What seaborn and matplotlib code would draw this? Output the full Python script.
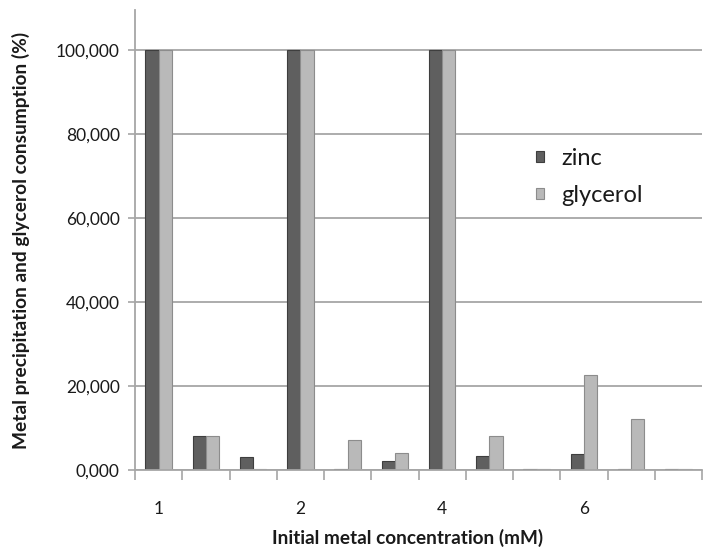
import matplotlib
matplotlib.use("Agg")
import matplotlib.pyplot as plt
import seaborn as sns
import pandas as pd
from matplotlib.ticker import FuncFormatter, FixedLocator

# Twelve samples; only every third one carries a concentration label
tick_labels = ["1", "", "", "2", "", "", "4", "", "", "6", "", ""]
zinc = [100.0, 8.0, 3.2, 100.0, 0.3, 2.2, 100.0, 3.3, 0.2, 3.8, 0.2, 0.2]
glycerol = [100.0, 8.0, 0.3, 100.0, 7.2, 4.0, 100.0, 8.0, 0.2, 22.7, 12.1, 0.2]
series = ["zinc", "glycerol"]
y_ticks = [0, 20, 40, 60, 80, 100]

n = len(tick_labels)
df = pd.DataFrame({
    "sample": list(range(n)) * 2,
    "value": zinc + glycerol,
    "series": ["zinc"] * n + ["glycerol"] * n,
})

sns.set_theme(style="white")
plt.rcParams["font.family"] = ["Lato", "DejaVu Sans"]

fig = plt.figure(figsize=(7.07, 5.53), dpi=100)
ax = fig.add_axes([0.191, 0.150, 0.802, 0.832])

palette = {"zinc": "#5f5f5f", "glycerol": "#b9b9b9"}
sns.barplot(data=df, x="sample", y="value", hue="series", hue_order=series,
            palette=palette, width=0.56, gap=0, saturation=1,
            edgecolor="#3e3e3e", linewidth=0.8, ax=ax, legend=True)
for bar in ax.patches:
    if abs(bar.get_facecolor()[0] - 0xb9 / 255) < 0.02:
        bar.set_edgecolor("#8c8c8c")

ax.set_xlim(-0.5, n - 0.5)
ax.set_ylim(0, 109.5)

# y axis
ax.yaxis.set_major_locator(FixedLocator(y_ticks))
ax.yaxis.set_major_formatter(FuncFormatter(lambda v, p: f"{v:,.3f}".replace(".", ",")))
ax.grid(axis="y", color="#a6a6a6", linewidth=1.3)
ax.set_axisbelow(True)

# x axis: tick marks at sample boundaries, labels at sample centres
ax.set_xticks([i - 0.5 for i in range(n + 1)])
ax.set_xticklabels([""] * (n + 1))
ax.set_xticks(list(range(n)), minor=True)
ax.set_xticklabels(tick_labels, minor=True)
ax.tick_params(axis="x", which="major", length=7, width=1.2, color="#a6a6a6",
               direction="out", bottom=True)
ax.tick_params(axis="x", which="minor", length=0, pad=22, labelsize=12.5,
               labelcolor="#1a1a1a")
ax.tick_params(axis="y", length=5, width=1.2, color="#a6a6a6", direction="out",
               left=True, labelsize=12.5, labelcolor="#1a1a1a", pad=6)

for side in ("top", "right"):
    ax.spines[side].set_visible(False)
for side in ("left", "bottom"):
    ax.spines[side].set_color("#a6a6a6")
    ax.spines[side].set_linewidth(1.3)

ax.set_xlabel("Initial metal concentration (mM)", fontsize=13.7,
              fontweight="bold", color="#1a1a1a")
ax.set_ylabel("Metal precipitation and glycerol consumption (%)", fontsize=13.8,
              fontweight="bold", color="#1a1a1a")
ax.xaxis.set_label_coords(0.481, -0.128)
ax.yaxis.set_label_coords(-0.186, 0.50)

leg = ax.legend(loc="upper left", bbox_to_anchor=(0.707, 0.70), frameon=False,
                fontsize=17, handlelength=0.35, handleheight=0.35,
                handletextpad=0.72, labelspacing=0.66, borderpad=0,
                borderaxespad=0)
for t in leg.get_texts():
    t.set_color("#1a1a1a")

fig.savefig("out.png", dpi=100)
